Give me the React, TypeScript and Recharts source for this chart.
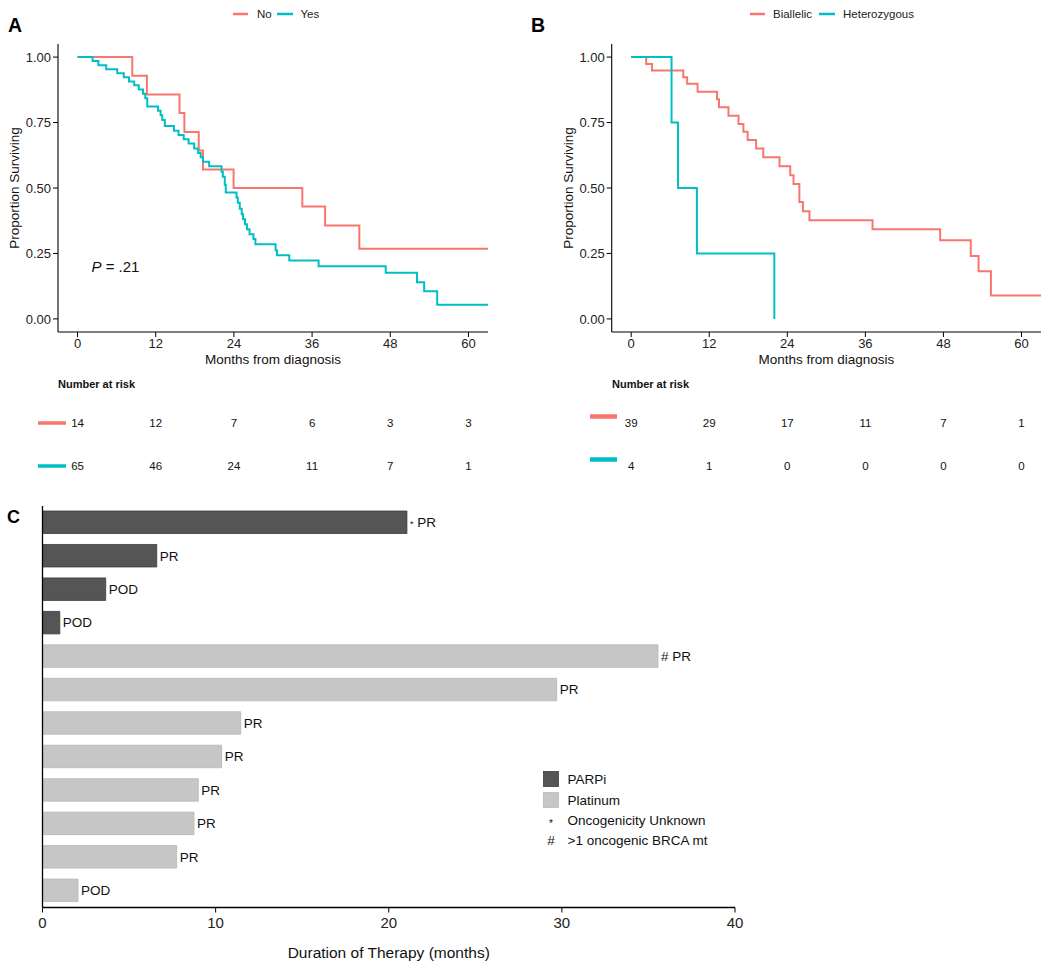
import React from 'react';
import {
  LineChart, Line, XAxis, YAxis, ScatterChart, Scatter, BarChart, Bar, Cell, LabelList,
} from 'recharts';

const FONT = '"Liberation Sans", Arial, Helvetica, sans-serif';
const RED = '#F8766D';
const CYAN = '#00BFC4';
const DARK = '#555555';
const LIGHT = '#c6c6c6';

// ---- Panel A: BRCA ... No / Yes (months, proportion surviving)
const noTimes = [0, 8.4, 10.65, 15.65, 16.4, 18.6, 19.25, 23.95, 34.5, 38.0, 43.25, 63];
const noSurv = [1, 0.929, 0.857, 0.786, 0.714, 0.643, 0.571, 0.5, 0.429, 0.357, 0.268, 0.268];

const yesTimes = [
  0, 2.3, 3.2, 4.4, 6.1, 7.1, 7.9, 8.7, 9.4, 10.05,
  10.4, 10.7, 12.35, 12.75, 13.0, 13.4, 14.8, 15.5, 16.3, 17.05,
  17.9, 18.5, 18.9, 19.25, 20.2, 22.1, 22.3, 22.6, 22.75, 24.4,
  24.6, 24.9, 25.2, 25.4, 25.7, 26.0, 26.4, 27.0, 27.3, 30.4,
  30.6, 32.5, 37.0, 47.3, 52.1, 53.2, 55.2, 63,
];
const yesSurv = [
  1, 0.985, 0.969, 0.954, 0.938, 0.923, 0.907, 0.892, 0.876, 0.86,
  0.843, 0.811, 0.795, 0.778, 0.76, 0.737, 0.719, 0.702, 0.686, 0.67,
  0.651, 0.634, 0.617, 0.6, 0.583, 0.562, 0.543, 0.511, 0.483, 0.464,
  0.444, 0.421, 0.4, 0.381, 0.362, 0.342, 0.323, 0.305, 0.285, 0.262,
  0.243, 0.223, 0.201, 0.176, 0.14, 0.106, 0.054, 0.054,
];

// ---- Panel B: Biallelic / Heterozygous
const biTimes = [
  0, 2.3, 3.2, 8.0, 8.6, 10.2, 13.2, 13.5, 14.95, 16.5,
  17.25, 17.9, 19.2, 20.3, 22.8, 24.45, 24.95, 25.85, 26.4, 27.4,
  37.1, 47.5, 52.2, 53.4, 55.3, 63,
];
const biSurv = [
  1, 0.974, 0.949, 0.923, 0.898, 0.868, 0.839, 0.808, 0.776, 0.744,
  0.715, 0.683, 0.651, 0.617, 0.583, 0.549, 0.515, 0.447, 0.411, 0.377,
  0.342, 0.3, 0.24, 0.182, 0.089, 0.089,
];
const hetTimes = [0, 6.2, 7.2, 10.1, 22.0];
const hetSurv = [1, 0.75, 0.5, 0.25, 0];

// ---- number at risk
const riskTimes = [0, 12, 24, 36, 48, 60];
const riskNo = [14, 12, 7, 6, 3, 3];
const riskYes = [65, 46, 24, 11, 7, 1];
const riskBi = [39, 29, 17, 11, 7, 1];
const riskHet = [4, 1, 0, 0, 0, 0];

const monthTicks = [0, 12, 24, 36, 48, 60];
const survTicks = [0, 0.25, 0.5, 0.75, 1];

// ---- Panel C: duration of therapy
const therapyIds = ['p1', 'p2', 'p3', 'p4', 'p5', 'p6', 'p7', 'p8', 'p9', 'p10', 'p11', 'p12'];
const therapyMonths = [21.05, 6.6, 3.65, 1.0, 35.55, 29.7, 11.45, 10.35, 9.0, 8.75, 7.75, 2.05];
const therapyType = ['PARPi', 'PARPi', 'PARPi', 'PARPi', 'Platinum', 'Platinum', 'Platinum', 'Platinum', 'Platinum', 'Platinum', 'Platinum', 'Platinum'];
const therapyResp = ['PR', 'PR', 'POD', 'POD', 'PR', 'PR', 'PR', 'PR', 'PR', 'PR', 'PR', 'POD'];
const therapyMark = ['*', '', '', '', '#', '', '', '', '', '', '', ''];
const durationTicks = [0, 10, 20, 30, 40];

const zip = (ts: number[], ss: number[]) => ts.map((t, i) => ({ t, s: ss[i] }));
const riskData = (rows: number[][]) =>
  rows.flatMap((r, ri) => r.map((n, i) => ({ t: riskTimes[i], row: ri + 1, n })));

const tickStyle = { fill: '#222', fontSize: 13, fontFamily: FONT };

function KMPanel({ left, width, yAxisW, right, series }: any) {
  return (
    <div style={{ position: 'absolute', left, top: 0 }}>
      <LineChart width={width} height={370} margin={{ top: 44, right, bottom: 0, left: 0 }}>
        <XAxis
          type="number"
          dataKey="t"
          domain={[-3, 63]}
          ticks={monthTicks}
          allowDataOverflow
          height={38}
          tick={tickStyle}
          tickSize={5}
          tickMargin={2}
          axisLine={{ stroke: '#000', strokeWidth: 1.1 }}
          tickLine={{ stroke: '#000' }}
          label={(p: any) => (
            <text x={p.viewBox.x + p.viewBox.width / 2} y={p.viewBox.y + 32} textAnchor="middle"
              fontSize={13.5} fontFamily={FONT} fill="#111">Months from diagnosis</text>
          )}
        />
        <YAxis
          type="number"
          domain={[-0.05, 1.05]}
          ticks={survTicks}
          allowDataOverflow
          width={yAxisW}
          tickFormatter={(v: number) => v.toFixed(2)}
          tick={tickStyle}
          tickSize={5}
          tickMargin={2}
          axisLine={{ stroke: '#000', strokeWidth: 1.1 }}
          tickLine={{ stroke: '#000' }}
          label={(p: any) => {
            const x = p.viewBox.x + yAxisW - 39;
            const y = p.viewBox.y + p.viewBox.height / 2;
            return (
              <text x={x} y={y} transform={`rotate(-90, ${x}, ${y})`} textAnchor="middle"
                fontSize={13.5} fontFamily={FONT} fill="#111">Proportion Surviving</text>
            );
          }}
        />
        {series.map((s: any) => (
          <Line key={s.name} data={s.data} dataKey="s" name={s.name} type="stepAfter"
            stroke={s.color} strokeWidth={2} dot={false} isAnimationActive={false} />
        ))}
      </LineChart>
    </div>
  );
}

function RiskTable({ left, width, yAxisW, right, rows, colors, strip }: any) {
  return (
    <div style={{ position: 'absolute', left, top: 370 }}>
      <ScatterChart width={width} height={130} margin={{ top: 31.5, right, bottom: 12.5, left: 0 }}>
        <XAxis type="number" dataKey="t" domain={[-3, 63]} hide />
        <YAxis
          type="number"
          dataKey="row"
          domain={[0.5, 2.5]}
          ticks={[1, 2]}
          reversed
          width={yAxisW}
          axisLine={false}
          tickLine={false}
          tick={(p: any) => (
            <rect x={strip.x0} y={p.y + strip.dy - strip.h / 2} width={strip.x1 - strip.x0}
              height={strip.h} fill={colors[p.payload.value - 1]} />
          )}
        />
        <Scatter
          data={riskData(rows)}
          isAnimationActive={false}
          shape={(p: any) => (
            <text x={p.cx} y={p.cy} dy="0.36em" textAnchor="middle" fontSize={11.5}
              fontFamily={FONT} fill="#111">{p.payload.n}</text>
          )}
        />
      </ScatterChart>
    </div>
  );
}

function DurationChart() {
  const data = therapyIds.map((id, i) => ({
    id, dur: therapyMonths[i], type: therapyType[i], resp: therapyResp[i], mark: therapyMark[i],
  }));
  return (
    <div style={{ position: 'absolute', left: 0, top: 500 }}>
      <BarChart width={760} height={465} data={data} layout="vertical"
        margin={{ top: 6, right: 25, bottom: 0, left: 0 }}>
        <XAxis
          type="number"
          domain={[0, 40]}
          ticks={durationTicks}
          height={57.5}
          tick={{ fill: '#222', fontSize: 15, fontFamily: FONT }}
          tickSize={5}
          tickMargin={5}
          axisLine={{ stroke: '#000', strokeWidth: 1.3 }}
          tickLine={{ stroke: '#000' }}
          label={(p: any) => (
            <text x={p.viewBox.x + p.viewBox.width / 2} y={p.viewBox.y + 50.5} textAnchor="middle"
              fontSize={15.5} fontFamily={FONT} fill="#111">Duration of Therapy (months)</text>
          )}
        />
        <YAxis type="category" dataKey="id" width={42.5} tick={false} tickLine={false}
          axisLine={{ stroke: '#000', strokeWidth: 1.3 }} />
        <Bar dataKey="dur" barSize={22.5} isAnimationActive={false}>
          {data.map((d) => (
            <Cell key={d.id} fill={d.type === 'PARPi' ? DARK : LIGHT}
              stroke={d.type === 'PARPi' ? '#3c3c3c' : '#b8b8b8'} strokeWidth={0.8} />
          ))}
          <LabelList
            dataKey="resp"
            content={(p: any) => {
              const d = data[p.index];
              const x = p.x + p.width + 3;
              const y = p.y + p.height / 2;
              return (
                <text x={x} y={y} dy="0.36em" fontSize={13.5} fontFamily={FONT} fill="#111">
                  {d.mark === '*' && <tspan fontSize={9}>*</tspan>}
                  {d.mark === '*' && ' '}
                  {d.mark === '#' && '# '}
                  {p.value}
                </text>
              );
            }}
          />
        </Bar>
      </BarChart>
    </div>
  );
}

export default function App() {
  return (
    <div style={{ position: 'absolute', left: 0, top: 0, width: 1050, height: 965, background: '#fff', fontFamily: FONT }}>
      <KMPanel left={0} width={500} yAxisW={58} right={12}
        series={[
          { name: 'No', color: RED, data: zip(noTimes, noSurv) },
          { name: 'Yes', color: CYAN, data: zip(yesTimes, yesSurv) },
        ]} />
      <RiskTable left={0} width={500} yAxisW={58} right={12} rows={[riskNo, riskYes]}
        colors={[RED, CYAN]} strip={{ x0: 38, x1: 66, h: 3.5, dy: 0 }} />

      <KMPanel left={530} width={520} yAxisW={81.7} right={9}
        series={[
          { name: 'Biallelic', color: RED, data: zip(biTimes, biSurv) },
          { name: 'Heterozygous', color: CYAN, data: zip(hetTimes, hetSurv) },
        ]} />
      <RiskTable left={530} width={520} yAxisW={81.7} right={9} rows={[riskBi, riskHet]}
        colors={[RED, CYAN]} strip={{ x0: 60, x1: 87, h: 4.5, dy: -6.5 }} />

      <DurationChart />

      <svg width={1050} height={965} style={{ position: 'absolute', left: 0, top: 0, pointerEvents: 'none' }}
        fontFamily={FONT}>
        {/* panel letters */}
        <text x={8} y={32} fontSize={19.5} fontWeight="bold" fill="#000">A</text>
        <text x={531} y={32} fontSize={19.5} fontWeight="bold" fill="#000">B</text>
        <text x={7} y={523} fontSize={18} fontWeight="bold" fill="#000">C</text>

        {/* legends A / B */}
        <line x1={233} x2={248} y1={14} y2={14} stroke={RED} strokeWidth={2.5} />
        <text x={257} y={18} fontSize={11.5} fill="#222">No</text>
        <line x1={277} x2={293} y1={14} y2={14} stroke={CYAN} strokeWidth={2.5} />
        <text x={300.5} y={18} fontSize={11.5} fill="#222">Yes</text>

        <line x1={750} x2={765} y1={14} y2={14} stroke={RED} strokeWidth={2.5} />
        <text x={773} y={18} fontSize={11.5} fill="#222">Biallelic</text>
        <line x1={819} x2={835} y1={14} y2={14} stroke={CYAN} strokeWidth={2.5} />
        <text x={843} y={18} fontSize={11.5} fill="#222">Heterozygous</text>

        {/* p value */}
        <text x={91.5} y={272} fontSize={15} fill="#111"><tspan fontStyle="italic">P</tspan> = .21</text>

        {/* risk table titles */}
        <text x={58} y={388} fontSize={11} fontWeight="bold" fill="#111">Number at risk</text>
        <text x={612} y={388} fontSize={11} fontWeight="bold" fill="#111">Number at risk</text>

        {/* legend C */}
        <rect x={543.5} y={771.5} width={15} height={15} fill={DARK} stroke="#3c3c3c" strokeWidth={0.8} />
        <text x={567.5} y={783.5} fontSize={13.5} fill="#111">PARPi</text>
        <rect x={543.5} y={792.5} width={15} height={15} fill={LIGHT} stroke="#b8b8b8" strokeWidth={0.8} />
        <text x={567.5} y={804.5} fontSize={13.5} fill="#111">Platinum</text>
        <text x={551} y={827} fontSize={10} textAnchor="middle" fill="#111">*</text>
        <text x={567.5} y={825} fontSize={13.5} fill="#111">Oncogenicity Unknown</text>
        <text x={551} y={845} fontSize={13.5} textAnchor="middle" fill="#111">#</text>
        <text x={567.5} y={845} fontSize={13.5} fill="#111">&gt;1 oncogenic BRCA mt</text>
      </svg>
    </div>
  );
}
